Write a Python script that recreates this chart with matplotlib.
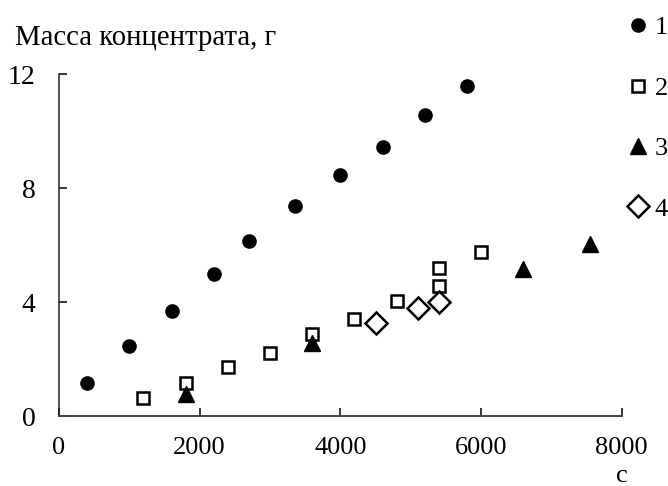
import matplotlib
matplotlib.use("Agg")
import matplotlib.pyplot as plt

plt.rcParams['font.family'] = ['Liberation Serif', 'DejaVu Serif']

# Data
s1_x = [400, 1000, 1600, 2200, 2700, 3350, 4000, 4600, 5200, 5800]
s1_y = [1.16, 2.46, 3.68, 4.98, 6.14, 7.37, 8.46, 9.45, 10.56, 11.58]
s2_x = [1200, 1800, 2400, 3000, 3600, 4200, 4800, 5400, 5400, 6000]
s2_y = [0.62, 1.15, 1.73, 2.22, 2.87, 3.39, 4.04, 4.56, 5.20, 5.76]
s3_x = [1800, 3600, 6600, 7550]
s3_y = [0.76, 2.55, 5.15, 6.04]
s4_x = [4500, 5100, 5400]
s4_y = [3.27, 3.78, 4.00]
labels = ['1', '2', '3', '4']
xticks = [0, 2000, 4000, 6000, 8000]
yticks = [0, 4, 8, 12]
title = 'Масса концентрата, г'
xunit = 'с'

fig = plt.figure(figsize=(6.68, 4.86), dpi=100)
ax = fig.add_axes([59/668, 1-416/486, (621.7-59)/668, (416-74)/486])

ax.plot(s1_x, s1_y, 'o', ms=9.5, color='black', mec='black', label=labels[0], clip_on=False)
ax.plot(s2_x, s2_y, 's', ms=8, mfc='white', mec='black', mew=1.8, label=labels[1], clip_on=False)
ax.plot(s3_x, s3_y, '^', ms=12, color='black', mec='black', label=labels[2], clip_on=False)
ax.plot(s4_x, s4_y, 'D', ms=11, mfc='white', mec='black', mew=1.8, label=labels[3], clip_on=False)

ax.set_xlim(0, 8000)
ax.set_ylim(0, 12)
ax.set_xticks(xticks)
ax.set_yticks(yticks)
ax.set_xticklabels([str(v) for v in xticks])
ax.set_yticklabels([str(v) for v in yticks])
for s in ['top', 'right']:
    ax.spines[s].set_visible(False)
ax.spines['left'].set_color('#222222')
ax.spines['bottom'].set_color('#444444')
ax.spines['left'].set_linewidth(1.1)
ax.spines['bottom'].set_linewidth(1.4)
ax.tick_params(axis='both', direction='in', length=6, width=1.1, color='black', labelsize=19)
ax.tick_params(axis='y', labelsize=20, pad=17)
ax.tick_params(axis='x', pad=15)

fig.text(15/668, 1-45/486, title, fontsize=20.7, va='baseline', ha='left')
fig.text(622/668, 1-476/486, xunit, fontsize=19, va='center', ha='center')

leg = fig.legend(loc='upper left', bbox_to_anchor=(625/668, 1-16/486), frameon=False,
                 fontsize=19, handlelength=1.0, handletextpad=0.12, labelspacing=1.4,
                 borderpad=0, borderaxespad=0)

fig.savefig('out.png', dpi=100)
